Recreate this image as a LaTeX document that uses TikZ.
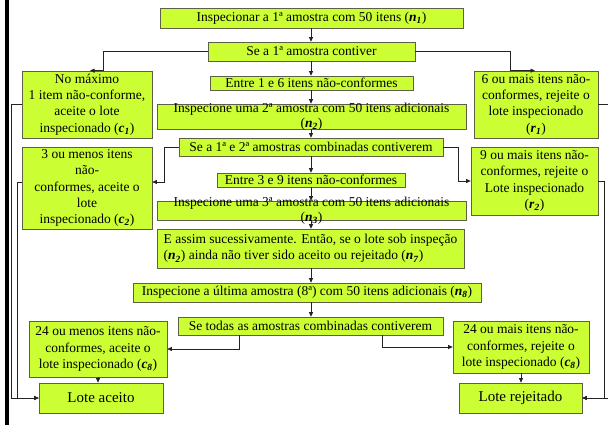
\documentclass[tikz,border=0pt]{standalone}
\usepackage{fontspec}
\setmainfont{Liberation Serif}
\usetikzlibrary{arrows.meta}

\definecolor{limefill}{RGB}{204,255,51}
\definecolor{boxedge}{RGB}{95,95,70}
\definecolor{wire}{RGB}{35,35,35}

% bold italic symbol with subscript, e.g. n_1, c_1, r_1
\newcommand\symsub[2]{\textbf{\textit{#1}}\textsubscript{\textbf{\textit{#2}}}}

\tikzset{
  boxstyle/.style={draw=boxedge, fill=limefill, line width=0.7pt, inner sep=0pt, rectangle},
  txt/.style={inner sep=0pt, align=center, font=\fontsize{13.5pt}{16.3pt}\selectfont},
  bigtxt/.style={font=\fontsize{15pt}{17pt}\selectfont},
  conn/.style={draw=wire, line width=0.8pt, -{Triangle[length=4.5pt,width=4pt]}},
}

% \flowbox[text options]{name}{x1}{y1}{x2}{y2}{text}
\newcommand\flowbox[7][]{%
  \node[boxstyle, minimum width={#5pt-#3pt}, minimum height={#6pt-#4pt}]
    (#2) at ({(#3+#5)/2},{(#4+#6)/2}) {};
  \node[txt,#1] (#2-t) at (#2.center) {#7};}

\begin{document}
\begin{tikzpicture}[x=1pt,y=-1pt]
\useasboundingbox (0,0) rectangle (608,425);
\fill[white] (0,0) rectangle (608,425);
% frame bar on the left
\fill[black] (4.5,0) rectangle (8.5,425);

% main column
\flowbox{b1}{160}{8}{463}{28}{Inspecionar a 1ª amostra com 50 itens (\symsub{n}{1})}
\flowbox{b2}{208}{42}{415}{61}{Se a 1ª amostra contiver}
\flowbox{b3}{210}{76}{413}{90}{Entre 1 e 6 itens não-conformes}
\flowbox{b4}{157}{104}{466}{129}{Inspecione uma 2ª amostra com 50 itens adicionais\\[-1pt](\symsub{n}{2})}
\flowbox{b5}{179}{138}{443}{156}{Se a 1ª e 2ª amostras combinadas contiverem}
\flowbox{b6}{217}{173}{405}{187}{Entre 3 e 9 itens não-conformes}
\flowbox{b7}{157}{201}{466}{220}{Inspecione uma 3ª amostra com 50 itens adicionais\\[-1pt](\symsub{n}{3})}
\flowbox[align=left]{b8}{157}{229}{464}{268}{E assim sucessivamente. Então, se o lote sob inspeção\\(\symsub{n}{2}) ainda não tiver sido aceito ou rejeitado (\symsub{n}{7})}
\flowbox{b9}{133}{283}{481}{302}{Inspecione a última amostra (8ª) com 50 itens adicionais (\symsub{n}{8})}
\flowbox{b10}{178}{317}{443}{335}{Se todas as amostras combinadas contiverem}

% side decisions
\flowbox{c1}{22}{71}{152}{138}{No máximo\\1 item não-conforme,\\aceite o lote\\inspecionado (\symsub{c}{1})}
\flowbox{r1}{474}{71}{598}{138}{6 ou mais itens não-\\conformes, rejeite o\\lote inspecionado\\(\symsub{r}{1})}
\flowbox{c2}{22}{147}{152}{229}{3 ou menos itens\\não-\\conformes, aceite o\\lote\\inspecionado (\symsub{c}{2})}
\flowbox{r2}{471}{147}{598}{215}{9 ou mais itens não-\\conformes, rejeite o\\Lote inspecionado\\(\symsub{r}{2})}
\flowbox{c8a}{29}{321}{167}{377}{24 ou menos itens não-\\conformes, aceite o\\lote inspecionado (\symsub{c}{8})}
\flowbox{c8r}{453}{321}{589}{373}{24 ou mais itens não-\\conformes, rejeite o\\lote inspecionado (\symsub{c}{8})}

% outcomes
\flowbox[bigtxt]{aceito}{39}{383}{163}{413}{Lote aceito}
\flowbox[bigtxt]{rejeit}{459}{383}{582}{413}{Lote rejeitado}

% helper columns and rows for the connectors
\coordinate (col) at (311,0);
\coordinate (j2) at (0,182);
\coordinate (ja) at (239,0);
\coordinate (jb) at (382,0);
\coordinate (la) at (11,0);
\coordinate (lb) at (17,0);
\coordinate (ra) at (614,0);
\coordinate (rb) at (604,0);

% downward flow
\draw[conn] (b1.south -| col) -- (b2.north -| col);
\draw[conn] (b2.south -| col) -- (b3.north -| col);
\draw[conn] (b3.south -| col) -- (b4.north -| col);
\draw[conn] (b4.south -| col) -- (b5.north -| col);
\draw[conn] (b5.south -| col) -- (b6.north -| col);
\draw[conn] (b6.south -| col) -- (b7.north -| col);
\draw[conn] (b7.south -| col) -- (b8.north -| col);
\draw[conn] (b8.south -| col) -- (b9.north -| col);
\draw[conn] (b9.south -| col) -- (b10.north -| col);

% branches to the side boxes
\draw[conn] (b2.west) -| ([xshift=16pt]c1.north) -- ([xshift=3pt]c1.north);
\draw[conn] (b2.east) -| ([xshift=-26pt]r1.north) -- ([xshift=-1pt]r1.north);
\draw[conn] (b5.west) -- ++(-14,0) |- (j2 -| c2.east);
\draw[conn] (b5.east) -- ++(15,0) |- (r2.west);
\draw[conn] (b10.south -| ja) |- (c8a.east);
\draw[conn] (b10.south -| jb) |- (c8r.west);
\draw[conn] (c8a.south) -- (c8a.south |- aceito.north);
\draw[conn] (c8r.south) -- (c8r.south |- rejeit.north);

% returns to the final outcomes
\draw[conn] (c1.west) -- (c1.west -| la) |- (aceito.west);
\draw[conn] (c2.west |- j2) -- (j2 -| lb) |- (aceito.west);
\draw[conn] (r1.east) -- (r1.east -| ra) |- (rejeit.east);
\draw[conn] (r2.east) -- (r2.east -| rb) |- (rejeit.east);
\end{tikzpicture}
\end{document}
